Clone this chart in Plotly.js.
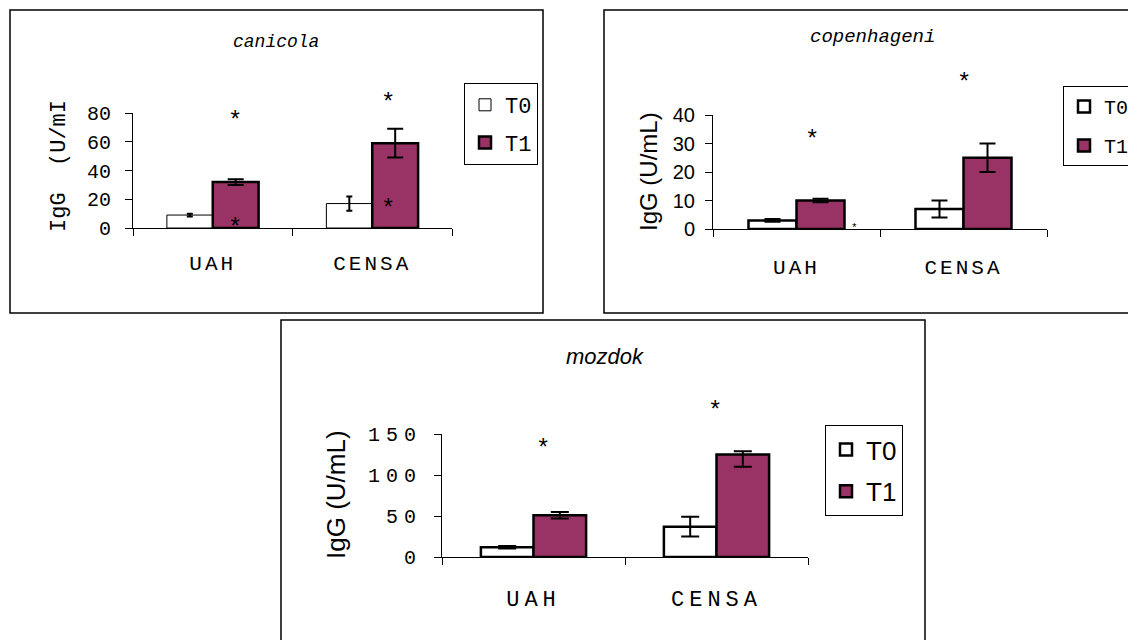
<!DOCTYPE html>
<html><head><meta charset="utf-8">
<script src="https://cdn.plot.ly/plotly-3.0.1.min.js"></script>
<style>
html,body{margin:0;padding:0;background:#fff}
#chart{width:1128px;height:640px}
.xtick text{letter-spacing:3px}
.x2tick text{letter-spacing:3px}
.x3tick text{letter-spacing:5px}
.y3tick text{letter-spacing:6px}
</style></head><body><div id="chart"></div><script>
// ---- data ----
const categories = ['UAH', 'CENSA'];
const seriesNames = ['T0', 'T1'];

const canicolaT0 = [9, 17];
const canicolaT0Err = [1, 5];
const canicolaT1 = [32, 59];
const canicolaT1Err = [2, 10];

const copenhageniT0 = [3, 7];
const copenhageniT0Err = [0.5, 3];
const copenhageniT1 = [10, 25];
const copenhageniT1Err = [0.6, 5];

const mozdokT0 = [12, 37];
const mozdokT0Err = [1.5, 12];
const mozdokT1 = [51, 125];
const mozdokT1ErrPlus = [4, 4];
const mozdokT1ErrMinus = [4, 15];

// significance asterisks: category position, value
const canicolaStarX = [0.14, 0.14, 1.1, 1.1];
const canicolaStarY = [78, 4, 91, 17];
const copenhageniStarX = [0.09, 1.0];
const copenhageniStarY = [33, 53];
const copenhageniSmallStarX = [0.35];
const copenhageniSmallStarY = [1.5];
const mozdokStarX = [0.05, 0.99];
const mozdokStarY = [139, 185];

const yMax = [80, 40, 150];

// ---- style ----
const W = 1128, H = 640;
const px = v => v / W;
const py = v => 1 - v / H;
const T1COLOR = '#993366';
const MONO = 'Liberation Mono, Courier New, monospace';
const SANS = 'Liberation Sans, Arial, sans-serif';

function barTrace(name, y, err, errMinus, xa, ya, legend, fill, lw, errW) {
  const e = {type: 'data', array: err, color: '#000', thickness: 2, width: errW, visible: true};
  if (errMinus) { e.symmetric = false; e.arrayminus = errMinus; }
  return {
    type: 'bar', name: name, x: categories, y: y, xaxis: xa, yaxis: ya,
    legend: legend, legendgroup: legend + name,
    marker: {color: fill, line: {color: '#000', width: lw}},
    error_y: e, hoverinfo: 'skip'
  };
}

const data = [
  barTrace(seriesNames[0], canicolaT0, canicolaT0Err, null, 'x', 'y', 'legend', '#ffffff', 1, 3),
  barTrace(seriesNames[1], canicolaT1, canicolaT1Err, null, 'x', 'y', 'legend', T1COLOR, 2.5, 8),
  barTrace(seriesNames[0], copenhageniT0, copenhageniT0Err, null, 'x2', 'y2', 'legend2', '#ffffff', 2.5, 8),
  barTrace(seriesNames[1], copenhageniT1, copenhageniT1Err, null, 'x2', 'y2', 'legend2', T1COLOR, 2.5, 8),
  barTrace(seriesNames[0], mozdokT0, mozdokT0Err, null, 'x3', 'y3', 'legend3', '#ffffff', 2.5, 9),
  barTrace(seriesNames[1], mozdokT1, mozdokT1ErrPlus, mozdokT1ErrMinus, 'x3', 'y3', 'legend3', T1COLOR, 2.5, 9)
];

function xAxis(d, anchor, fsize, standoff) {
  return {
    domain: d, anchor: anchor, type: 'category', range: [-0.5, 1.5],
    tickson: 'boundaries', ticks: 'outside', ticklen: 7, tickcolor: '#000', tickwidth: 1,
    showline: true, linecolor: '#000', linewidth: 1, showgrid: false, zeroline: false,
    tickfont: {family: MONO, size: fsize, color: '#000'}, ticklabelstandoff: standoff,
    automargin: false, fixedrange: true
  };
}
function yAxis(d, anchor, max, dtick, font, standoff) {
  return {
    domain: d, anchor: anchor, range: [0, max], tickmode: 'linear', tick0: 0, dtick: dtick,
    ticks: 'outside', ticklen: 7, tickcolor: '#000', tickwidth: 1,
    showline: true, linecolor: '#000', linewidth: 1, showgrid: false, zeroline: false,
    tickfont: font, ticklabelstandoff: standoff, automargin: false, fixedrange: true
  };
}

function stars(xs, ys, xa, ya, max, size, shift) {
  return xs.map((x, i) => ({
    x: x, y: ys[i] / max, xref: xa, yref: ya + ' domain', text: '*', showarrow: false,
    xanchor: 'center', yanchor: 'middle', yshift: shift,
    font: {family: MONO, size: size, color: '#000'}
  }));
}

function label(x, y, text, font, angle) {
  return {x: px(x), y: py(y), xref: 'paper', yref: 'paper', text: text, textangle: angle || 0,
    xanchor: 'center', yanchor: 'middle', showarrow: false, font: font};
}

const annotations = [
  label(59, 166, 'IgG  (U/mI', {family: MONO, size: 22, color: '#000'}, -90),
  label(648, 172, 'IgG (U/mL)', {family: SANS, size: 24, color: '#000'}, -90),
  label(336, 495, 'IgG (U/mL)', {family: SANS, size: 26, color: '#000'}, -90),
  label(276, 42, '<i>canicola</i>', {family: MONO, size: 18, color: '#000'}),
  label(872, 37, '<i>copenhageni</i>', {family: MONO, size: 19, color: '#000'}),
  label(605, 356, '<i>mozdok</i>', {family: SANS, size: 22, color: '#000'})
].concat(
  stars(canicolaStarX, canicolaStarY, 'x', 'y', yMax[0], 24, -6),
  stars(copenhageniStarX, copenhageniStarY, 'x2', 'y2', yMax[1], 24, -6),
  stars(copenhageniSmallStarX, copenhageniSmallStarY, 'x2', 'y2', yMax[1], 11, -3),
  stars(mozdokStarX, mozdokStarY, 'x3', 'y3', yMax[2], 24, -6)
);

function legendCfg(x, y, font, gap) {
  return {x: x, y: y, xanchor: 'left', yanchor: 'top', bgcolor: '#fff',
    bordercolor: '#000', borderwidth: 1, font: font, tracegroupgap: gap,
    itemwidth: 30, orientation: 'v', traceorder: 'grouped'};
}

const layout = {
  width: W, height: H, margin: {l: 0, r: 0, t: 0, b: 0, pad: 0, autoexpand: false},
  paper_bgcolor: '#fff', plot_bgcolor: 'rgba(0,0,0,0)',
  barmode: 'group', bargap: 0.425, bargroupgap: 0,
  showlegend: true,
  xaxis: xAxis([px(133), px(452)], 'y', 21, 16),
  yaxis: yAxis([py(228), py(113)], 'x', yMax[0], 20, {family: MONO, size: 20, color: '#000'}, 10),
  xaxis2: xAxis([px(713), px(1047)], 'y2', 21, 19),
  yaxis2: yAxis([py(229), py(115)], 'x2', yMax[1], 10, {family: SANS, size: 20, color: '#000'}, 6),
  xaxis3: xAxis([px(442), px(808)], 'y3', 22, 22),
  yaxis3: yAxis([py(557), py(434)], 'x3', yMax[2], 50, {family: MONO, size: 20, color: '#000'}, 8),
  legend: legendCfg(px(464), py(83), {family: MONO, size: 22, color: '#000'}, 6),
  legend2: legendCfg(px(1063), py(86), {family: MONO, size: 20, color: '#000'}, 10),
  legend3: legendCfg(px(825), py(425), {family: SANS, size: 26, color: '#000'}, 5),
  annotations: annotations,
  shapes: [
    {type: 'rect', xref: 'paper', yref: 'paper', x0: px(10), x1: px(543), y0: py(313), y1: py(10),
     line: {color: '#000', width: 1.5}},
    {type: 'rect', xref: 'paper', yref: 'paper', x0: px(604), x1: px(1140), y0: py(313), y1: py(10),
     line: {color: '#000', width: 1.5}},
    {type: 'rect', xref: 'paper', yref: 'paper', x0: px(281), x1: px(925), y0: py(660), y1: py(320),
     line: {color: '#000', width: 1.5}}
  ]
};

Plotly.newPlot('chart', data, layout, {staticPlot: true, displayModeBar: false});
</script></body></html>
